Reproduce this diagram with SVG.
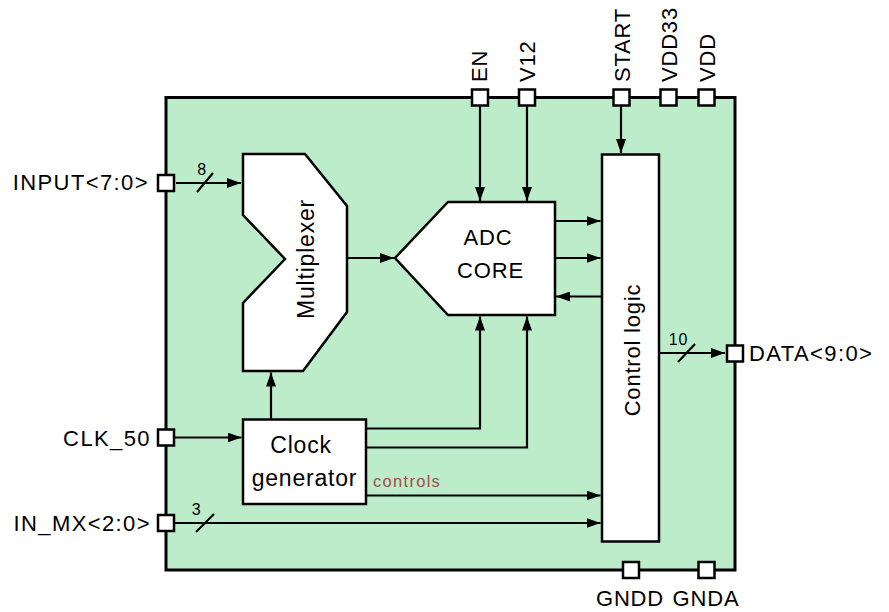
<svg xmlns="http://www.w3.org/2000/svg" width="889" height="612" viewBox="0 0 889 612">
<style>
.lbl{font-family:"Liberation Sans",Arial,sans-serif;font-size:22px;letter-spacing:0.8px;fill:#000}
.side{letter-spacing:1.4px}
.blk{fill:#fff;stroke:#000;stroke-width:2.5;stroke-linejoin:miter}
.pin{fill:#fff;stroke:#000;stroke-width:2.5}
.wire{fill:none;stroke:#000;stroke-width:2.2}
.arr{marker-end:url(#ah)}
.bus{font-family:"Liberation Sans",Arial,sans-serif;font-size:16px;letter-spacing:0.8px;fill:#000}
.ctl{font-family:"Liberation Sans",Arial,sans-serif;font-size:16.5px;letter-spacing:1.3px;fill:#a24c48}
</style>
<defs>
<marker id="ah" markerUnits="userSpaceOnUse" viewBox="0 0 14 10" refX="14" refY="5" markerWidth="14" markerHeight="10" orient="auto">
<path d="M0,0 L14,5 L0,10 z" fill="#000"/>
</marker>
</defs>
<rect width="889" height="612" fill="#fff"/>
<g id="chip">
<rect x="166" y="97.5" width="569" height="472.5" fill="#bdeccb" stroke="#000" stroke-width="3"/>
</g>
<g id="connectors">
<path class="wire arr" d="M176,183 H241"/>
<line class="wire" x1="197" y1="192" x2="213" y2="173"/>
<path class="wire arr" d="M347,258 H394"/>
<path class="wire arr" d="M480,106 V201"/>
<path class="wire arr" d="M527,106 V201"/>
<path class="wire arr" d="M621,106 V153"/>
<path class="wire arr" d="M555,221 H600.5"/>
<path class="wire arr" d="M555,258 H600.5"/>
<path class="wire arr" d="M602,296.5 H556"/>
<path class="wire arr" d="M175,437.5 H241.5"/>
<path class="wire arr" d="M271,419 V372.5"/>
<path class="wire arr" d="M366,428.5 H480 V316.5"/>
<path class="wire arr" d="M366,447.5 H527 V316.5"/>
<path class="wire arr" d="M366,495.5 H600.5"/>
<path class="wire arr" d="M175,523 H600.5"/>
<line class="wire" x1="196" y1="532" x2="214" y2="514"/>
<path class="wire arr" d="M659,353 H725"/>
<line class="wire" x1="678" y1="362" x2="695" y2="344"/>
<text class="bus" x="202" y="175" text-anchor="middle">8</text>
<text class="bus" x="196.5" y="515" text-anchor="middle">3</text>
<text class="bus" x="678.5" y="344.5" text-anchor="middle">10</text>
<text class="ctl" x="373" y="487">controls</text>
</g>
<g id="multiplexer">
<polygon class="blk" points="243,154 305,154 347,206 347,312 303,371 243,371 243,303 285,259 243,215"/>
<text class="lbl" transform="translate(314,259) rotate(-90)" text-anchor="middle" style="font-size:23px">Multiplexer</text>
</g>
<g id="adc-core">
<polygon class="blk" points="448,202 555,202 555,315 448,315 395,258"/>
<text class="lbl" x="488" y="244.5" text-anchor="middle">ADC</text>
<text class="lbl" x="490.5" y="277.5" text-anchor="middle">CORE</text>
</g>
<g id="control-logic">
<rect class="blk" x="602" y="154.5" width="57" height="387"/>
<text class="lbl" transform="translate(640,350) rotate(-90)" text-anchor="middle">Control logic</text>
</g>
<g id="clock-generator">
<rect class="blk" x="243" y="419.5" width="123" height="84.5"/>
<text class="lbl" x="301" y="452.5" text-anchor="middle" style="font-size:23px">Clock</text>
<text class="lbl" x="304.5" y="486" text-anchor="middle" style="font-size:23px">generator</text>
</g>
<g id="pin-input">
<rect class="pin" x="158" y="175" width="16" height="16"/>
<text class="lbl side" x="149" y="190" text-anchor="end">INPUT&lt;7:0&gt;</text>
</g>
<g id="pin-clk50">
<rect class="pin" x="158" y="429.5" width="16" height="16"/>
<text class="lbl side" x="151" y="445.5" text-anchor="end">CLK_50</text>
</g>
<g id="pin-inmx">
<rect class="pin" x="158" y="515" width="16" height="16"/>
<text class="lbl side" x="151" y="531" text-anchor="end">IN_MX&lt;2:0&gt;</text>
</g>
<g id="pin-data">
<rect class="pin" x="727" y="345.5" width="16" height="16"/>
<text class="lbl side" x="749" y="361">DATA&lt;9:0&gt;</text>
</g>
<g id="pin-en">
<rect class="pin" x="472" y="89.5" width="16" height="16"/>
<text class="lbl" transform="translate(487,82) rotate(-90)">EN</text>
</g>
<g id="pin-v12">
<rect class="pin" x="519" y="89.5" width="16" height="16"/>
<text class="lbl" transform="translate(535,82) rotate(-90)">V12</text>
</g>
<g id="pin-start">
<rect class="pin" x="613.5" y="89.5" width="16" height="16"/>
<text class="lbl" transform="translate(630,82) rotate(-90)">START</text>
</g>
<g id="pin-vdd33">
<rect class="pin" x="660.5" y="89.5" width="16" height="16"/>
<text class="lbl" transform="translate(677,82) rotate(-90)">VDD33</text>
</g>
<g id="pin-vdd">
<rect class="pin" x="698.5" y="89.5" width="16" height="16"/>
<text class="lbl" transform="translate(715,82) rotate(-90)">VDD</text>
</g>
<g id="pin-gndd">
<rect class="pin" x="623" y="562" width="16" height="16"/>
<text class="lbl" x="630" y="606" text-anchor="middle">GNDD</text>
</g>
<g id="pin-gnda">
<rect class="pin" x="698.5" y="562" width="16" height="16"/>
<text class="lbl" x="706" y="606" text-anchor="middle">GNDA</text>
</g>
</svg>
